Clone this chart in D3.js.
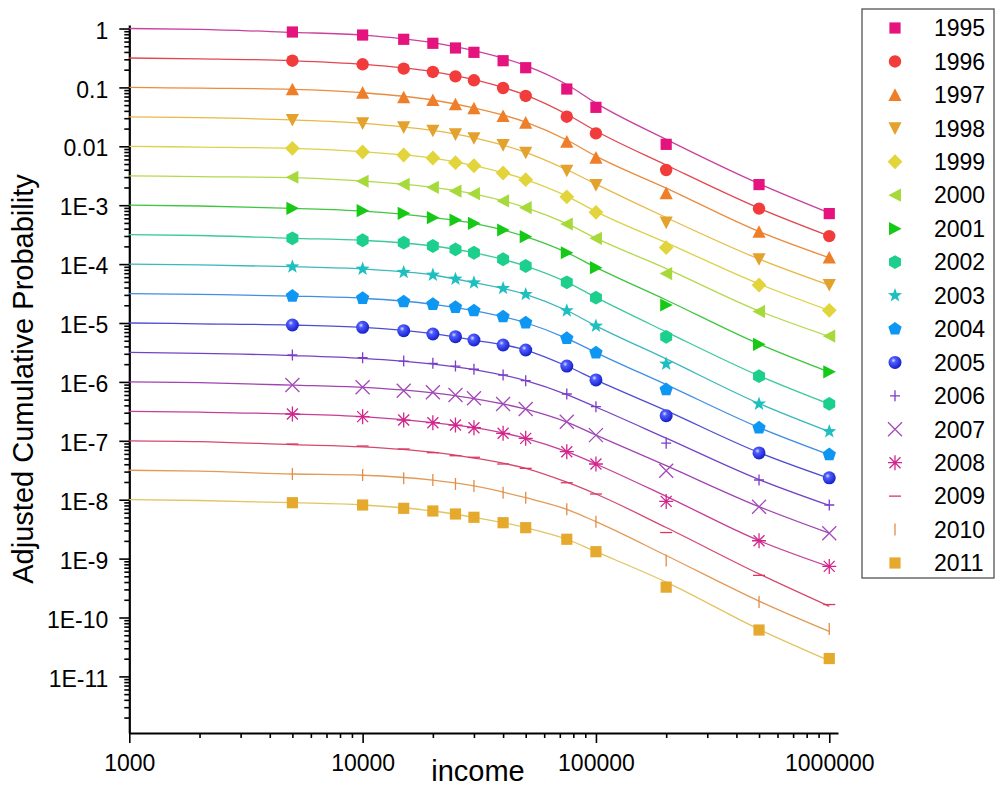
<!DOCTYPE html>
<html><head><meta charset="utf-8">
<script src="https://cdn.jsdelivr.net/npm/d3@7"></script>
<style>html,body{margin:0;padding:0;background:#fff;} svg{display:block;font-family:"Liberation Sans",Arial,sans-serif;}</style>
</head><body><svg id="chart" width="996" height="798"></svg>
<script>
// ---------- data ----------
const years = ["1995","1996","1997","1998","1999","2000","2001","2002","2003","2004","2005","2006","2007","2008","2009","2010","2011"];
const incomeX = [5000, 10000, 15000, 20000, 25000, 30000, 40000, 50000, 75000, 100000, 200000, 500000, 1000000];
const y1995 = [0.872, 0.775, 0.656, 0.561, 0.467, 0.394, 0.284, 0.216, 0.0939, 0.0459, 0.0108, 0.00224, 0.00072];
const y1996 = [0.284, 0.247, 0.208, 0.183, 0.154, 0.132, 0.0977, 0.0715, 0.0318, 0.0166, 0.00396, 0.000875, 0.000299];
const y1997 = [0.0929, 0.0813, 0.0679, 0.0611, 0.0516, 0.0442, 0.0327, 0.0252, 0.012, 0.0064, 0.0016, 0.000353, 0.000129];
const y1998 = [0.028, 0.0246, 0.021, 0.0184, 0.016, 0.0137, 0.0105, 0.00778, 0.00385, 0.0022, 0.000508, 0.000121, 4.42e-5];
const y1999 = [0.00925, 0.008, 0.00712, 0.00633, 0.00527, 0.00468, 0.00352, 0.00271, 0.00139, 0.000757, 0.000191, 4.42e-5, 1.64e-5];
const y2000 = [0.00298, 0.00255, 0.00226, 0.00201, 0.00174, 0.00157, 0.00118, 0.000907, 0.00048, 0.000274, 6.9e-5, 1.57e-5, 6.0e-6];
const y2001 = [8.86e-4, 8.06e-4, 7.29e-4, 6.13e-4, 5.61e-4, 4.93e-4, 3.79e-4, 2.92e-4, 1.56e-4, 8.69e-5, 2.02e-5, 4.35e-6, 1.48e-6];
const y2002 = [2.74e-4, 2.54e-4, 2.31e-4, 2.03e-4, 1.78e-4, 1.56e-4, 1.21e-4, 9.28e-5, 4.91e-5, 2.69e-5, 5.83e-6, 1.25e-6, 4.23e-7];
const y2003 = [9.03e-5, 8.26e-5, 7.26e-5, 6.53e-5, 5.58e-5, 4.83e-5, 3.88e-5, 3.07e-5, 1.62e-5, 8.89e-6, 2.02e-6, 4.23e-7, 1.44e-7];
const y2004 = [2.87e-5, 2.63e-5, 2.3e-5, 2.08e-5, 1.85e-5, 1.62e-5, 1.28e-5, 1.01e-5, 5.5e-6, 3.13e-6, 7.4e-7, 1.66e-7, 5.83e-8];
const y2005 = [9.25e-6, 8.45e-6, 7.4e-6, 6.5e-6, 5.85e-6, 5.14e-6, 4.23e-6, 3.48e-6, 1.86e-6, 1.08e-6, 2.67e-7, 6.23e-8, 2.35e-8];
const y2006 = [2.86e-6, 2.57e-6, 2.26e-6, 2.07e-6, 1.86e-6, 1.64e-6, 1.31e-6, 1.05e-6, 6.23e-7, 3.79e-7, 9.11e-8, 2.16e-8, 8.13e-9];
const y2007 = [8.86e-7, 8.1e-7, 7.09e-7, 6.66e-7, 5.99e-7, 5.27e-7, 4.21e-7, 3.47e-7, 2.11e-7, 1.25e-7, 3.11e-8, 7.58e-9, 2.7e-9];
const y2008 = [2.85e-7, 2.57e-7, 2.25e-7, 2.03e-7, 1.85e-7, 1.67e-7, 1.34e-7, 1.1e-7, 6.53e-8, 4.04e-8, 9.36e-9, 2.01e-9, 7.37e-10];
const y2009 = [8.82e-8, 8.16e-8, 7.26e-8, 6.28e-8, 5.58e-8, 5.25e-8, 4.04e-8, 3.41e-8, 1.94e-8, 1.25e-8, 2.77e-9, 5.19e-10, 1.66e-10];
const y2010 = [2.73e-8, 2.63e-8, 2.31e-8, 2.16e-8, 1.85e-8, 1.71e-8, 1.31e-8, 1.08e-8, 6.87e-9, 4.23e-9, 9.32e-10, 1.83e-10, 6.4e-11];
const y2011 = [8.89e-9, 8.13e-9, 7.14e-9, 6.43e-9, 5.72e-9, 5.03e-9, 4.07e-9, 3.35e-9, 2.13e-9, 1.31e-9, 3.28e-10, 6.13e-11, 2.01e-11];

// fitted curves, read at these incomes
const fitX = [1000, 2000, 5000, 10000, 20000, 30000, 50000, 75000, 100000, 200000, 500000, 1000000];
const fit1995 = [1.0, 0.969, 0.86, 0.775, 0.575, 0.42, 0.235, 0.112, 0.054, 0.0131, 0.00232, 0.00074];
const fit1996 = [0.316, 0.306, 0.284, 0.247, 0.185, 0.135, 0.074, 0.035, 0.0182, 0.00482, 0.00089, 0.0003];
const fit1997 = [0.1, 0.097, 0.0929, 0.0813, 0.0611, 0.0448, 0.0258, 0.0128, 0.0068, 0.00195, 0.000357, 0.000128];
const fit1998 = [0.0316, 0.0306, 0.028, 0.0246, 0.0186, 0.0139, 0.0079, 0.004, 0.00228, 0.000618, 0.000122, 4.4e-5];
const fit1999 = [0.01, 0.0097, 0.00925, 0.0081, 0.0063, 0.00472, 0.00273, 0.00143, 0.00078, 0.000232, 4.6e-5, 1.63e-5];
const fit2000 = [0.00316, 0.00306, 0.00295, 0.00257, 0.00201, 0.00156, 0.00091, 0.000485, 0.000276, 8.4e-5, 1.6e-5, 5.9e-6];
const fit2001 = [0.001, 0.00097, 0.000886, 0.000795, 0.000618, 0.000493, 0.000292, 0.000157, 8.8e-5, 2.46e-5, 4.4e-6, 1.47e-6];
const fit2002 = [3.16e-4, 3.06e-4, 2.74e-4, 2.54e-4, 2.03e-4, 1.56e-4, 9.28e-5, 4.95e-5, 2.72e-5, 7.09e-6, 1.27e-6, 4.2e-7];
const fit2003 = [1e-4, 9.7e-5, 9.03e-5, 8.26e-5, 6.53e-5, 4.85e-5, 3.07e-5, 1.63e-5, 8.95e-6, 2.46e-6, 4.3e-7, 1.43e-7];
const fit2004 = [3.16e-5, 3.06e-5, 2.87e-5, 2.63e-5, 2.08e-5, 1.62e-5, 1.01e-5, 5.5e-6, 3.15e-6, 9.0e-7, 1.68e-7, 5.8e-8];
const fit2005 = [1e-5, 9.7e-6, 9.25e-6, 8.45e-6, 6.6e-6, 5.14e-6, 3.48e-6, 1.86e-6, 1.08e-6, 3.25e-7, 6.3e-8, 2.3e-8];
const fit2006 = [3.16e-6, 3.06e-6, 2.8e-6, 2.5e-6, 2.0e-6, 1.62e-6, 1.05e-6, 6.1e-7, 3.75e-7, 1.11e-7, 2.2e-8, 8e-9];
const fit2007 = [1e-6, 9.7e-7, 8.8e-7, 8.05e-7, 6.5e-7, 5.2e-7, 3.45e-7, 2.08e-7, 1.25e-7, 3.78e-8, 7.6e-9, 2.7e-9];
const fit2008 = [3.16e-7, 3.06e-7, 2.85e-7, 2.57e-7, 2.03e-7, 1.67e-7, 1.1e-7, 6.53e-8, 4.04e-8, 1.14e-8, 2.02e-9, 7.3e-10];
const fit2009 = [1e-7, 9.7e-8, 8.6e-8, 7.9e-8, 6.4e-8, 5.1e-8, 3.4e-8, 1.98e-8, 1.25e-8, 3.37e-9, 5.5e-10, 1.55e-10];
const fit2010 = [3.16e-8, 3.06e-8, 2.73e-8, 2.6e-8, 2.15e-8, 1.71e-8, 1.08e-8, 6.87e-9, 4.23e-9, 1.13e-9, 1.9e-10, 5.8e-11];
const fit2011 = [1e-8, 9.7e-9, 8.89e-9, 8.13e-9, 6.43e-9, 5.03e-9, 3.35e-9, 2.13e-9, 1.31e-9, 3.99e-10, 6.3e-11, 1.85e-11];

const yTickValues = [1, 0.1, 0.01, 1e-3, 1e-4, 1e-5, 1e-6, 1e-7, 1e-8, 1e-9, 1e-10, 1e-11];
const yTickLabels = ["1", "0.1", "0.01", "1E-3", "1E-4", "1E-5", "1E-6", "1E-7", "1E-8", "1E-9", "1E-10", "1E-11"];
const xTickValues = [1000, 10000, 100000, 1000000];
const xTickLabels = ["1000", "10000", "100000", "1000000"];
const xTitle = "income";
const yTitle = "Adjusted Cumulative Probability";

// ---------- styles ----------
const markerTypes = ["square","circle","triUp","triDown","diamond","triLeft","triRight","hexagon","star","pentagon","sphere","plus","times","asterisk","dash","bar","square"];
const markerColors = ["#E5137D","#F23B3B","#EF7E29","#E3A12E","#E2D43B","#A5DA3A","#17C917","#1DCF8C","#1DBFBF","#0D97F3","#1F2FEF","#7D3BC9","#A24BB8","#D2268C","#DE3561","#E28C48","#E5AA2D"];
const lineColors = ["#C9409E","#E2474F","#EA8C3F","#E8B945","#DCD148","#B4D94A","#3FC63F","#3CC9A0","#3DB7BE","#3F8FE2","#4C4ED2","#7443C4","#A044B2","#C53E98","#D5496E","#E39A55","#E2C462"];

const pointSets = [y1995,y1996,y1997,y1998,y1999,y2000,y2001,y2002,y2003,y2004,y2005,y2006,y2007,y2008,y2009,y2010,y2011];
const fitSets = [fit1995,fit1996,fit1997,fit1998,fit1999,fit2000,fit2001,fit2002,fit2003,fit2004,fit2005,fit2006,fit2007,fit2008,fit2009,fit2010,fit2011];
const series = years.map((yr, i) => ({
  year: yr, type: markerTypes[i], color: markerColors[i], lineColor: lineColors[i],
  points: incomeX.map((x, j) => [x, pointSets[i][j]]),
  fit: fitX.map((x, j) => [x, fitSets[i][j]])
}));

// ---------- chart ----------
const svg = d3.select("#chart");
const x = d3.scaleLog().domain([1000, 1.09e6]).range([129.3, 838]);
const y = d3.scaleLog().domain([1.094e-12, 1.147]).range([733, 25]);

const defs = svg.append("defs");
const grad = defs.append("radialGradient").attr("id","sphereGrad").attr("cx","38%").attr("cy","35%").attr("r","65%");
grad.append("stop").attr("offset","0%").attr("stop-color","#DDE2FF");
grad.append("stop").attr("offset","28%").attr("stop-color","#4E5CFF");
grad.append("stop").attr("offset","100%").attr("stop-color","#1620C8");

function poly(n, r, rot) {
  const pts = [];
  for (let k = 0; k < n; k++) {
    const a = rot + k * 2 * Math.PI / n;
    pts.push([r * Math.sin(a), -r * Math.cos(a)]);
  }
  return "M" + pts.map(p => p[0].toFixed(2) + "," + p[1].toFixed(2)).join("L") + "Z";
}
function starPath(ro, ri) {
  const pts = [];
  for (let k = 0; k < 10; k++) {
    const r = k % 2 === 0 ? ro : ri;
    const a = k * Math.PI / 5;
    pts.push([r * Math.sin(a), -r * Math.cos(a)]);
  }
  return "M" + pts.map(p => p[0].toFixed(2) + "," + p[1].toFixed(2)).join("L") + "Z";
}
const shapes = {
  square:   {d: "M-5.6,-5.6H5.6V5.6H-5.6Z", fill: true},
  circle:   {d: d3.arc()({innerRadius:0, outerRadius:6.2, startAngle:0, endAngle:2*Math.PI}), fill: true},
  triUp:    {d: "M0,-6.6L6.6,6L-6.6,6Z", fill: true},
  triDown:  {d: "M0,6.6L6.6,-6L-6.6,-6Z", fill: true},
  diamond:  {d: "M0,-7.4L7.4,0L0,7.4L-7.4,0Z", fill: true},
  triLeft:  {d: "M-6.6,0L6,-6.6L6,6.6Z", fill: true},
  triRight: {d: "M6.6,0L-6,-6.6L-6,6.6Z", fill: true},
  hexagon:  {d: poly(6, 6.9, 0), fill: true},
  star:     {d: starPath(7.4, 3.0), fill: true},
  pentagon: {d: poly(5, 7.0, 0), fill: true},
  sphere:   {d: d3.arc()({innerRadius:0, outerRadius:6.5, startAngle:0, endAngle:2*Math.PI}), fill: true, grad: true},
  plus:     {d: "M-5,0H5M0,-5.5V5.5", fill: false},
  times:    {d: "M-7,-7L7,7M-7,7L7,-7", fill: false},
  asterisk: {d: "M-7,0H7M0,-7.5V7.5M-5.5,-5.5L5.5,5.5M-5.5,5.5L5.5,-5.5", fill: false},
  dash:     {d: "M-6,0H6", fill: false},
  bar:      {d: "M0,-6V6", fill: false}
};
function drawMarker(g, type, color) {
  const s = shapes[type];
  const p = g.append("path").attr("d", s.d);
  if (s.fill) p.attr("fill", s.grad ? "url(#sphereGrad)" : color).attr("stroke", "none");
  else p.attr("fill", "none").attr("stroke", color).attr("stroke-width", 1.3);
}

// axes
const yMinor = [];
for (let e = -12; e <= 0; e++) for (let m = 2; m <= 9; m++) {
  const v = m * Math.pow(10, e);
  if (v >= y.domain()[0] && v <= y.domain()[1]) yMinor.push(v);
}
const xMinor = [];
for (let e = 3; e <= 5; e++) for (let m = 2; m <= 9; m++) xMinor.push(m * Math.pow(10, e));

const gy = svg.append("g").attr("transform", "translate(129.3,0)");
gy.call(d3.axisLeft(y).tickValues(yMinor).tickFormat("").tickSize(5).tickSizeOuter(0));
gy.call(g => g.select(".domain").remove());
const gy2 = svg.append("g").attr("transform", "translate(129.3,0)");
gy2.call(d3.axisLeft(y).tickValues(yTickValues).tickFormat((d, i) => yTickLabels[i]).tickSize(10).tickPadding(11).tickSizeOuter(0));

const gx = svg.append("g").attr("transform", "translate(0,733)");
gx.call(d3.axisBottom(x).tickValues(xMinor).tickFormat("").tickSize(5).tickSizeOuter(0));
gx.call(g => g.select(".domain").remove());
const gx2 = svg.append("g").attr("transform", "translate(0,733)");
gx2.call(d3.axisBottom(x).tickValues(xTickValues).tickFormat((d, i) => xTickLabels[i]).tickSize(10).tickPadding(12).tickSizeOuter(0));

svg.selectAll(".tick line").attr("stroke", "#000").attr("stroke-width", 1.6);
svg.selectAll(".domain").attr("stroke", "#000").attr("stroke-width", 2.2);
svg.selectAll(".tick text").attr("font-size", 23).attr("fill", "#000").attr("font-family", "Liberation Sans, Arial, sans-serif");
gy2.selectAll(".tick text").attr("dy", "0.42em");

// titles
svg.append("text").attr("transform", "translate(33,379) rotate(-90)").attr("text-anchor", "middle")
  .attr("font-size", 29).attr("fill", "#000").text(yTitle);
svg.append("text").attr("x", 478).attr("y", 781).attr("text-anchor", "middle")
  .attr("font-size", 29).attr("fill", "#000").text(xTitle);

// fitted lines
const line = d3.line().x(d => x(d[0])).y(d => y(d[1])).curve(d3.curveMonotoneX);
const gl = svg.append("g");
series.forEach(s => {
  gl.append("path").attr("d", line(s.fit)).attr("fill", "none").attr("stroke", s.lineColor).attr("stroke-width", 1.3);
});

// markers
const gm = svg.append("g");
series.forEach(s => {
  s.points.forEach(p => {
    const g = gm.append("g").attr("transform", `translate(${x(p[0])},${y(p[1])})`);
    drawMarker(g, s.type, s.color);
  });
});

// legend
const lg = svg.append("g");
lg.append("rect").attr("x", 862).attr("y", 9).attr("width", 132).attr("height", 569)
  .attr("fill", "#fff").attr("stroke", "#444").attr("stroke-width", 1.2);
const ly = d3.scaleLinear().domain([0, 16]).range([28, 563]);
series.forEach((s, i) => {
  const g = lg.append("g").attr("transform", `translate(895,${ly(i)})`);
  drawMarker(g, s.type, s.color);
  lg.append("text").attr("x", 934).attr("y", ly(i)).attr("dy", "0.36em").attr("font-size", 23)
    .attr("fill", "#000").text(s.year);
});
</script></body></html>
